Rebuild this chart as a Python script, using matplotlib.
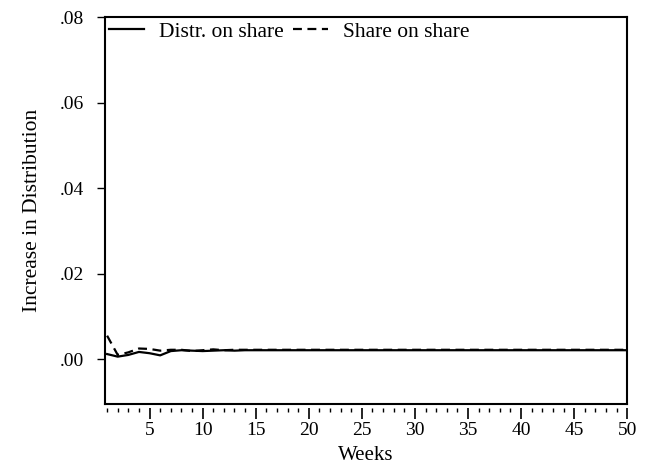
import matplotlib
matplotlib.use("Agg")
import matplotlib.pyplot as plt
from matplotlib import ticker

weeks = list(range(1, 51))
distr_on_share = [0.0012, 0.0006, 0.0010, 0.0017, 0.0014, 0.0009, 0.0019, 0.0021, 0.0020, 0.0019,
                  0.0020, 0.0021, 0.0020, 0.0021, 0.0021] + [0.0021] * 35
share_on_share = [0.0055, 0.0010, 0.0016, 0.0025, 0.0024, 0.0020, 0.0022, 0.0022, 0.0019, 0.0021,
                  0.0023, 0.0021, 0.0022, 0.0022, 0.0022] + [0.0022] * 35
week_ticks = [5, 10, 15, 20, 25, 30, 35, 40, 45, 50]
dist_ticks = [0.0, 0.02, 0.04, 0.06, 0.08]

plt.rcParams['font.family'] = ['Liberation Serif', 'DejaVu Serif']

fig = plt.figure(figsize=(6.48, 4.65), dpi=100)
ax = fig.add_axes([0.162, 0.131, 0.806, 0.832])

ax.plot(weeks, distr_on_share, 'k-', lw=1.6, label='Distr. on share')
ax.plot(weeks, share_on_share, 'k--', lw=1.6, dashes=(4, 2.5), label='Share on share')

ax.set_xlim(0.8, 50)
ax.set_ylim(-0.0105, 0.08)
ax.set_xticks(week_ticks)
ax.set_xticks([w for w in weeks if w not in week_ticks], minor=True)
ax.set_yticks(dist_ticks)
ax.yaxis.set_major_formatter(ticker.FuncFormatter(lambda v, p: "{0:.2f}".format(v).replace("0.", ".", 1)))

for s in ax.spines.values():
    s.set_linewidth(1.5)
# tick row sits a little below the frame, as in the original
ax.spines['bottom'].set_position(('outward', 3))
ax.spines['bottom'].set_visible(False)
ax.plot([0, 1], [0, 0], 'k-', lw=1.5, transform=ax.transAxes, clip_on=False)

ax.tick_params(axis='x', which='major', direction='out', length=8, width=1.2, color='black',
               labelsize=14, pad=2)
ax.tick_params(axis='x', which='minor', direction='out', length=3, width=1, color='black')
ax.tick_params(axis='y', which='major', direction='out', length=6, width=1, labelsize=14, pad=9)
for t in ax.xaxis.get_major_ticks():
    t.tick1line.set_visible(True)

ax.set_xlabel("Weeks", fontsize=15, labelpad=5)
ax.set_ylabel("Increase in Distribution", fontsize=15.5, labelpad=13)

ax.legend(loc='upper left', ncol=2, frameon=False, fontsize=15.5, handlelength=1.6,
          handletextpad=0.7, columnspacing=0.45, borderaxespad=0.0, borderpad=0.2)

plt.savefig('out.png', dpi=100)
